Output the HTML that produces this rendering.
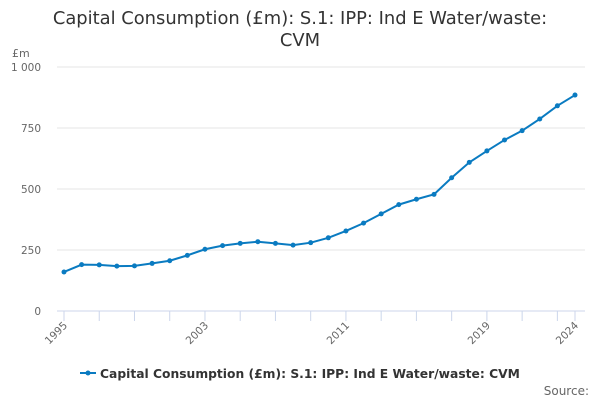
<!DOCTYPE html>
<html><head><meta charset="utf-8"><style>
body{margin:0;background:#fff;font-family:"DejaVu Sans",sans-serif}
svg text{font-family:"DejaVu Sans",sans-serif}
</style></head><body>
<svg id="c" width="600" height="400">
<text x="300" y="24" text-anchor="middle" font-size="17.9" fill="#333">Capital Consumption (£m): S.1: IPP: Ind E Water/waste:</text>
<text x="300" y="46" text-anchor="middle" font-size="17.9" fill="#333">CVM</text>
<text x="12" y="57" font-size="11" fill="#666">£m</text>
<g id="grid"></g><g id="xt"></g><g id="series"></g>
<g>
<line x1="80" y1="373" x2="96" y2="373" stroke="#0a7bc1" stroke-width="2"/>
<circle cx="88" cy="373" r="2.5" fill="#0a7bc1"/>
<text x="100" y="378" font-size="12.3" font-weight="bold" fill="#333">Capital Consumption (£m): S.1: IPP: Ind E Water/waste: CVM</text>
</g>
<text x="589" y="395" text-anchor="end" font-size="12" fill="#666">Source:</text>
</svg>
<script>
const years=[1995,1996,1997,1998,1999,2000,2001,2002,2003,2004,2005,2006,2007,2008,2009,2010,2011,2012,2013,2014,2015,2016,2017,2018,2019,2020,2021,2022,2023,2024];
const values=[160,190,189,184,185,195,206,228,253,268,277,284,277,270,280,300,328,360,398,436,458,478,546,609,656,701,739,787,841,885];
const yTicks=[0,250,500,750,1000];
const yTickLabels=["0","250","500","750","1 000"];
const xLabels=[1995,2003,2011,2019,2024];
const NS="http://www.w3.org/2000/svg";
const X=y=>64+(y-1995)*(575-64)/29;
const Y=v=>311-v*(311-67)/1000;
function mk(t,a,p){const e=document.createElementNS(NS,t);for(const k in a)e.setAttribute(k,a[k]);p.appendChild(e);return e;}
const g=document.getElementById('grid');
yTicks.forEach((v,i)=>{
 const l=mk('line',{x1:57,x2:585,y1:Y(v),y2:Y(v),stroke:i==0?'#ccd6eb':'#e6e6e6','stroke-width':1},g);
 
 
 const t=mk('text',{x:41,y:Y(v)+4,'text-anchor':'end','font-size':10.5,fill:'#666'},g);
 t.textContent=yTickLabels[i];
 
 
});
const xt=document.getElementById('xt');
years.forEach(y=>{
 if((y-1995)%2==0||y==2024){const l=mk('line',{x1:X(y),x2:X(y),y1:311,y2:321,stroke:'#ccd6eb'},xt);
 
 }
});
xLabels.forEach(y=>{
 const t=mk('text',{x:X(y)+4,y:326,'text-anchor':'end','font-size':10.5,fill:'#666',transform:`rotate(-45 ${X(y)+4} 326)`},xt);
 t.textContent=y;
 
 
});
const s=document.getElementById('series');
const p=mk('polyline',{points:years.map((y,i)=>X(y)+','+Y(values[i])).join(' '),fill:'none',stroke:'#0a7bc1','stroke-width':2},s);


years.forEach((y,i)=>{
 const c=mk('circle',{cx:X(y),cy:Y(values[i]),r:2.5,fill:'#0a7bc1'},s);
 
 
});
</script>
</body></html>
